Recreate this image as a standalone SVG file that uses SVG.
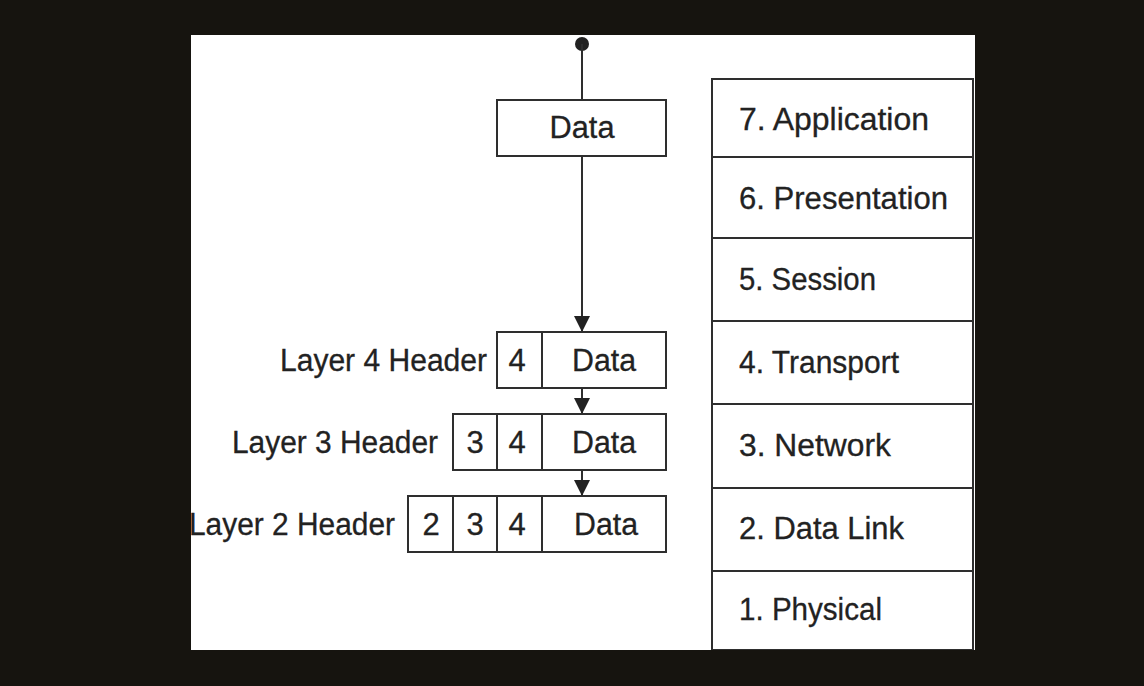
<svg xmlns="http://www.w3.org/2000/svg" width="1144" height="686" viewBox="0 0 1144 686">
<defs>
<style>
.box{fill:#fff;stroke:#2e2e2e;stroke-width:2}
.ln{stroke:#2e2e2e;stroke-width:2;fill:none}
.t{font-family:"Liberation Sans",Arial,sans-serif;font-size:31px;fill:#222;stroke:#222;stroke-width:0.3}
.c{text-anchor:middle}
.r{text-anchor:end}
</style>
<marker id="arr" viewBox="0 0 16 16" refX="16" refY="8" markerWidth="16" markerHeight="16" markerUnits="userSpaceOnUse" orient="auto">
<path d="M0,0 L16,8 L0,16 Z" fill="#222"/>
</marker>
<clipPath id="panel"><rect x="191" y="35" width="784" height="615"/></clipPath>
</defs>
<rect x="0" y="0" width="1144" height="686" fill="#16140f"/>
<rect x="191" y="35" width="784" height="615" fill="#fff"/>
<g clip-path="url(#panel)">
<g id="connectors">
<circle cx="582" cy="44" r="7" fill="#222"/>
<line class="ln" x1="582" y1="44" x2="582" y2="100"/>
<line class="ln" x1="582" y1="156" x2="582" y2="332" marker-end="url(#arr)"/>
<line class="ln" x1="582" y1="388" x2="582" y2="414" marker-end="url(#arr)"/>
<line class="ln" x1="582" y1="470" x2="582" y2="496" marker-end="url(#arr)"/>
</g>
<g id="data-top">
<rect class="box" x="497" y="100" width="169" height="56"/>
<text class="t c" x="582" y="138" textLength="65" lengthAdjust="spacingAndGlyphs">Data</text>
</g>
<g id="layer4">
<rect class="box" x="497" y="332" width="169" height="56"/>
<line class="ln" x1="542" y1="332" x2="542" y2="388"/>
<text class="t c" x="517" y="371">4</text>
<text class="t c" x="604" y="371" textLength="64" lengthAdjust="spacingAndGlyphs">Data</text>
<text class="t r" x="487" y="371" textLength="207" lengthAdjust="spacingAndGlyphs">Layer 4 Header</text>
</g>
<g id="layer3">
<rect class="box" x="453" y="414" width="213" height="56"/>
<line class="ln" x1="497" y1="414" x2="497" y2="470"/>
<line class="ln" x1="542" y1="414" x2="542" y2="470"/>
<text class="t c" x="475" y="453">3</text>
<text class="t c" x="517" y="453">4</text>
<text class="t c" x="604" y="453" textLength="64" lengthAdjust="spacingAndGlyphs">Data</text>
<text class="t r" x="438" y="453" textLength="206" lengthAdjust="spacingAndGlyphs">Layer 3 Header</text>
</g>
<g id="layer2">
<rect class="box" x="408" y="496" width="258" height="56"/>
<line class="ln" x1="453" y1="496" x2="453" y2="552"/>
<line class="ln" x1="497" y1="496" x2="497" y2="552"/>
<line class="ln" x1="542" y1="496" x2="542" y2="552"/>
<text class="t c" x="431" y="535">2</text>
<text class="t c" x="475" y="535">3</text>
<text class="t c" x="517" y="535">4</text>
<text class="t c" x="606" y="535" textLength="64" lengthAdjust="spacingAndGlyphs">Data</text>
<text class="t r" x="395" y="535" textLength="206" lengthAdjust="spacingAndGlyphs">Layer 2 Header</text>
</g>
<g id="osi7"><rect class="box" x="712" y="79" width="261" height="78"/><text class="t" x="739" y="130" textLength="190" lengthAdjust="spacingAndGlyphs">7. Application</text></g>
<g id="osi6"><rect class="box" x="712" y="157" width="261" height="81"/><text class="t" x="739" y="209" textLength="209" lengthAdjust="spacingAndGlyphs">6. Presentation</text></g>
<g id="osi5"><rect class="box" x="712" y="238" width="261" height="83"/><text class="t" x="739" y="290" textLength="137" lengthAdjust="spacingAndGlyphs">5. Session</text></g>
<g id="osi4"><rect class="box" x="712" y="321" width="261" height="83"/><text class="t" x="739" y="373" textLength="160" lengthAdjust="spacingAndGlyphs">4. Transport</text></g>
<g id="osi3"><rect class="box" x="712" y="404" width="261" height="84"/><text class="t" x="739" y="456" textLength="152" lengthAdjust="spacingAndGlyphs">3. Network</text></g>
<g id="osi2"><rect class="box" x="712" y="488" width="261" height="83"/><text class="t" x="739" y="539" textLength="165" lengthAdjust="spacingAndGlyphs">2. Data Link</text></g>
<g id="osi1"><rect class="box" x="712" y="571" width="261" height="79"/><text class="t" x="739" y="620" textLength="143" lengthAdjust="spacingAndGlyphs">1. Physical</text></g>
</g>
</svg>
